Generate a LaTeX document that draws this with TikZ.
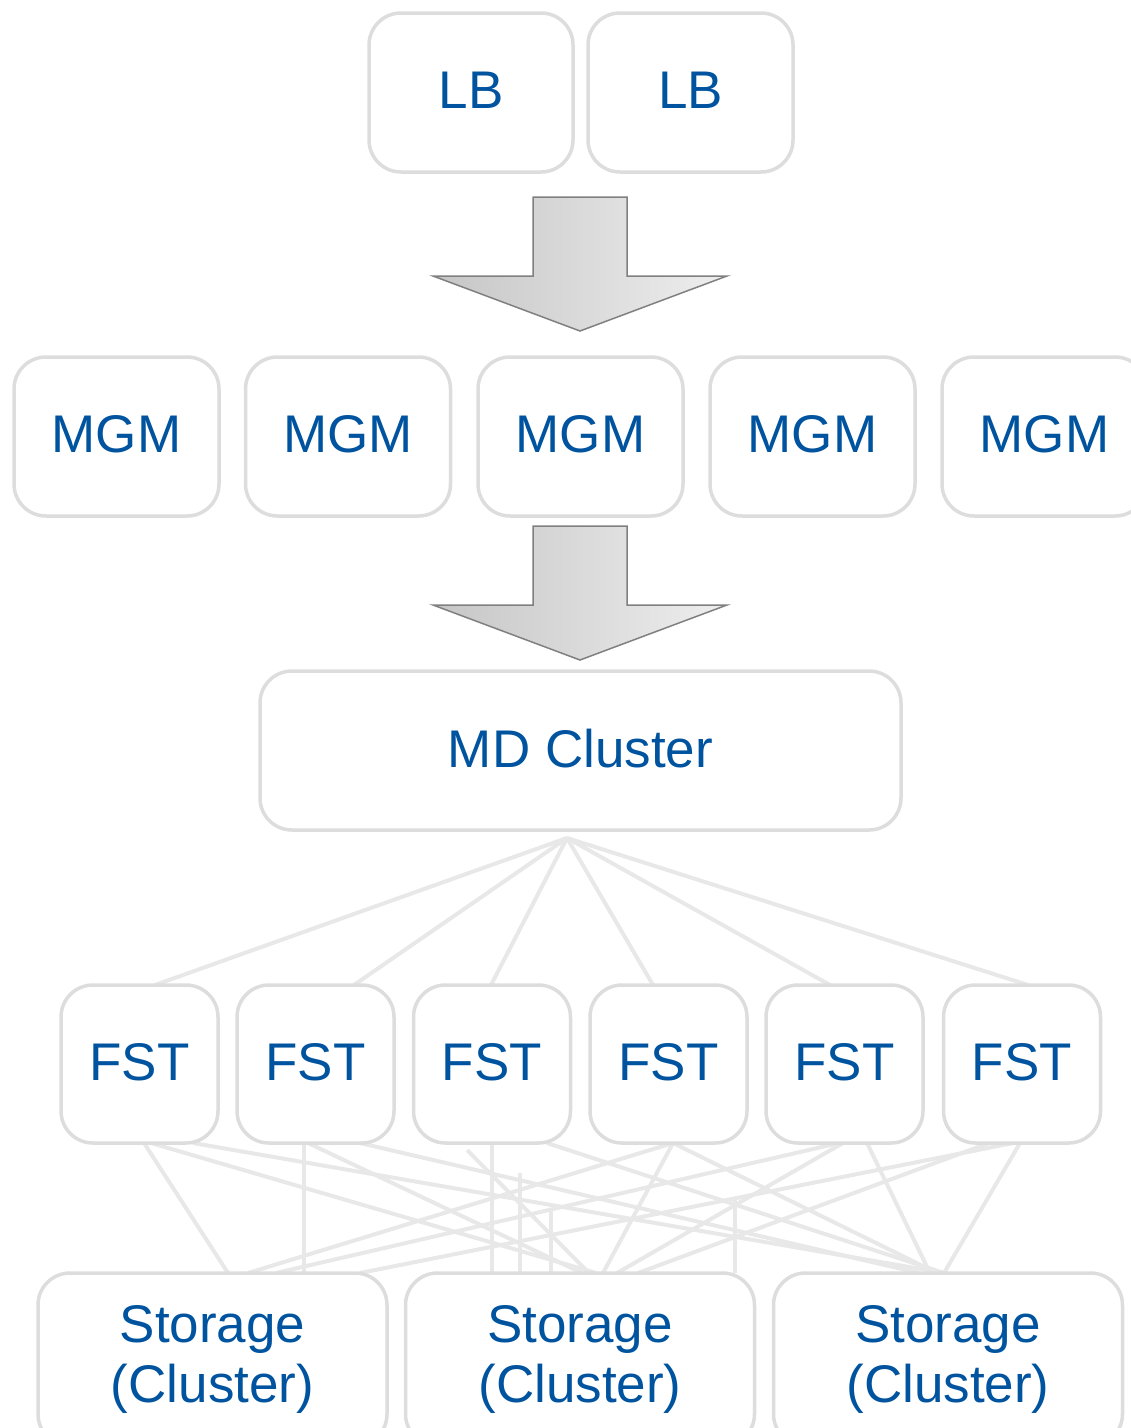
\documentclass[tikz,border=0pt]{standalone}
\usepackage{fontspec}
\setmainfont{Liberation Sans}
\usetikzlibrary{calc}
\definecolor{txtblue}{RGB}{0,84,159}
\definecolor{edgegray}{RGB}{221,221,221}
\definecolor{linkgray}{RGB}{232,232,232}
\definecolor{arrowline}{RGB}{128,128,128}
\definecolor{shadeL}{RGB}{198,198,198}
\definecolor{shadeR}{RGB}{238,238,238}
\pgfdeclarelayer{links}
\pgfsetlayers{links,main}
\begin{document}
\begin{tikzpicture}[x=1pt,y=-1pt,
  box/.style={draw=edgegray, line width=3.5pt, rounded corners=32pt, fill=white,
    text=txtblue, font=\fontsize{53}{60}\selectfont, inner sep=0pt, outer sep=0pt,
    minimum height=159pt},
  oneline/.style={box, text depth=5pt},
  link/.style={draw=linkgray, line width=4pt},
  bigarrow/.style={draw=arrowline, line width=1.5pt, left color=shadeL, right color=shadeR}]
\useasboundingbox (0,0) rectangle (1131,1428);

% load balancers
\node[oneline, minimum width=204pt] (lb1) at (471,92.5) {LB};
\node[oneline, minimum width=205pt] (lb2) at (690.5,92.5) {LB};

% metadata managers
\foreach \i/\x in {1/116.5, 2/348, 3/580.5, 4/812.5, 5/1044.5}
  \node[oneline, minimum width=205pt] (mgm\i) at (\x,436.5) {MGM};

\node[oneline, minimum width=641pt] (md) at (580.5,750.5) {MD Cluster};

% file storage servers
\foreach \i/\x in {1/139.5, 2/315.5, 3/492, 4/668.5, 5/844.5, 6/1022}
  \node[oneline, minimum width=157pt, minimum height=158pt] (fst\i) at (\x,1064) {FST};

% storage back ends
\foreach \i/\x in {1/212.5, 2/580, 3/948}
  \node[box, align=center, minimum width=349pt, minimum height=173pt] (st\i) at (\x,1359.5) {Storage\\(Cluster)};

% block arrows between the tiers
\draw[bigarrow] (533,197) -- (627,197) -- (627,276) -- (727,276) -- (580,331)
  -- (433,276) -- (533,276) -- cycle;
\draw[bigarrow] (533,526) -- (627,526) -- (627,605) -- (727,605) -- (580,660)
  -- (433,605) -- (533,605) -- cycle;

\begin{pgfonlayer}{links}
  % fan-out from the metadata cluster
  \coordinate (hub) at ($(md.south)+(-13.5,8)$);
  \foreach \i/\dx in {1/15.5, 2/38.5, 3/-1, 4/-15.5, 5/-14.5, 6/6}
    \draw[link] (hub) -- ($(fst\i.north)+(\dx,0)$);

  % mesh between FST nodes and storage clusters
  \foreach \f/\a/\s/\b in {
      1/4.5/1/15.5, 1/11.5/2/16, 1/53.5/3/-4,
      2/-11.5/1/91.5, 2/-7.5/2/2, 2/44.5/3/-29,
      3/0/2/-88, 3/55/3/-4,
      4/4.5/1/35.5, 4/4.5/2/23, 4/4.5/3/-11,
      5/-5.5/1/63.5, 5/-1.5/2/37, 5/22.5/3/-18,
      6/-9/1/147.5, 6/-33/2/58, 6/-2/3/-4}
    \draw[link] ($(fst\f.south)+(\a,0)$) -- ($(st\s.north)+(\b,0)$);

  % partly hidden segments
  \coordinate (h1) at ($(fst3.south)+(-25,7)$);
  \coordinate (h2) at ($(fst3.south)+(28,30)$);
  \coordinate (h3) at ($(fst3.south)+(59,65)$);
  \coordinate (h4) at ($(fst4.south)+(66.5,57)$);
  \draw[link] (h1) -- ($(st2.north)+(9,0)$);
  \draw[link] (h2) -- ($(st2.north)+(-60,0)$);
  \draw[link] (h3) -- ($(st2.north)+(-29,0)$);
  \draw[link] (h4) -- ($(st2.north)+(155,0)$);
\end{pgfonlayer}
\end{tikzpicture}
\end{document}
